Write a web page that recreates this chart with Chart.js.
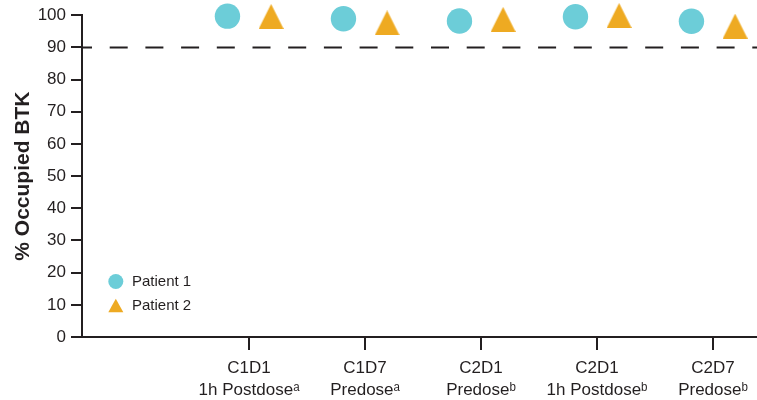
<!DOCTYPE html>
<html>
<head>
<meta charset="utf-8">
<script src="https://cdn.jsdelivr.net/npm/chart.js@4.4.1/dist/chart.umd.min.js"></script>
<style>
  html, body { margin: 0; padding: 0; background: #ffffff; }
  #wrap { width: 757px; height: 400px; }
</style>
</head>
<body>
<div id="wrap"><canvas id="chart" width="757" height="400"></canvas></div>
<script>
// Sampling time points (two label lines each)
const timepoints = [
  ['C1D1', '1h Postdose\u1d43'],
  ['C1D7', 'Predose\u1d43'],
  ['C2D1', 'Predose\u1d47'],
  ['C2D1', '1h Postdose\u1d47'],
  ['C2D7', 'Predose\u1d47']
];
// % occupied BTK per patient at each time point
const patient1 = [99.7, 98.9, 98.2, 99.5, 98.1];
const patient2 = [99.6, 97.6, 98.7, 99.9, 96.6];
const seriesNames = ['Patient 1', 'Patient 2'];
// Reference occupancy threshold (dashed line)
const threshold = 90;
const yMin = 0, yMax = 100, yStep = 10;

const INK = '#231f20';
const CYAN = '#6ccdd8';
const ORANGE = '#eeaa22';
const FONT = '"Liberation Sans", Arial, Helvetica, sans-serif';

// side-by-side dodge of the two patients around each time point
const dodge = [-0.186, 0.19];
const xMin = -0.44, xMax = 5.379;

// upright triangle marker, slightly taller than equilateral
function triangleMarker(w, h, color) {
  const c = document.createElement('canvas');
  c.width = w; c.height = h;
  const g = c.getContext('2d');
  g.fillStyle = color;
  g.beginPath();
  g.moveTo(w / 2, 0);
  g.lineTo(w, h);
  g.lineTo(0, h);
  g.closePath();
  g.fill();
  return c;
}
const triBig = triangleMarker(25, 25, ORANGE);

const toPoints = (vals, k) => vals.map((v, i) => ({ x: i + 1 + dodge[k], y: v }));

// Legend drawn inside the plot, lower left
const insideLegend = {
  id: 'insideLegend',
  afterDatasetsDraw(chart) {
    const ctx = chart.ctx;
    ctx.save();
    ctx.font = '15px ' + FONT;
    ctx.textBaseline = 'middle';
    ctx.textAlign = 'left';
    const mx = 115.8, tx = 132;
    const rows = [281.5, 305.7];
    // circle
    ctx.fillStyle = CYAN;
    ctx.beginPath();
    ctx.arc(mx, rows[0], 7.5, 0, Math.PI * 2);
    ctx.fill();
    // triangle
    ctx.fillStyle = ORANGE;
    ctx.beginPath();
    ctx.moveTo(mx, rows[1] - 7);
    ctx.lineTo(mx + 7.5, rows[1] + 6.5);
    ctx.lineTo(mx - 7.5, rows[1] + 6.5);
    ctx.closePath();
    ctx.fill();
    ctx.fillStyle = INK;
    ctx.fillText(seriesNames[0], tx, rows[0] + 0.5);
    ctx.fillText(seriesNames[1], tx, rows[1] + 0.5);
    ctx.restore();
  }
};

new Chart(document.getElementById('chart'), {
  data: {
    datasets: [
      {
        type: 'line',
        label: 'threshold',
        data: [{ x: xMin, y: threshold }, { x: xMax, y: threshold }],
        borderColor: INK,
        borderWidth: 2,
        borderDash: [18, 17.7],
        borderDashOffset: 8,
        pointRadius: 0,
        fill: false,
        order: 3
      },
      {
        type: 'scatter',
        label: seriesNames[0],
        data: toPoints(patient1, 0),
        pointStyle: 'circle',
        pointRadius: 12.7,
        backgroundColor: CYAN,
        borderWidth: 0,
        clip: false,
        order: 1
      },
      {
        type: 'scatter',
        label: seriesNames[1],
        data: toPoints(patient2, 1),
        pointStyle: triBig,
        pointRadius: 12.5,
        backgroundColor: ORANGE,
        borderWidth: 0,
        clip: false,
        order: 2
      }
    ]
  },
  options: {
    responsive: false,
    animation: false,
    devicePixelRatio: 1,
    events: [],
    layout: { autoPadding: false, padding: { top: 15, right: 0, bottom: 0, left: 0 } },
    plugins: {
      legend: { display: false },
      tooltip: { enabled: false }
    },
    scales: {
      x: {
        type: 'linear',
        min: xMin,
        max: xMax,
        afterBuildTicks: (s) => { s.ticks = timepoints.map((_, i) => ({ value: i + 1 })); },
        afterFit: (s) => { s.height = 63; s.paddingLeft = 0; s.paddingRight = 0; },
        ticks: {
          autoSkip: false,
          maxRotation: 0,
          minRotation: 0,
          padding: 7,
          color: INK,
          font: { family: FONT, size: 17, lineHeight: 1.3 },
          callback: (v, i) => timepoints[i]
        },
        grid: { drawOnChartArea: false, drawTicks: true, tickLength: 13, color: INK, lineWidth: 2 },
        border: { display: true, color: INK, width: 2 }
      },
      y: {
        min: yMin,
        max: yMax,
        afterFit: (s) => { s.width = 82; },
        ticks: {
          stepSize: yStep,
          padding: 5,
          color: INK,
          font: { family: FONT, size: 17 }
        },
        grid: { drawOnChartArea: false, drawTicks: true, tickLength: 11, color: INK, lineWidth: 2 },
        border: { display: true, color: INK, width: 2 },
        title: {
          display: true,
          text: '% Occupied BTK',
          color: INK,
          font: { family: FONT, size: 21, weight: 'bold' },
          padding: { top: 11, bottom: 0 }
        }
      }
    }
  },
  plugins: [insideLegend]
});
</script>
</body>
</html>
